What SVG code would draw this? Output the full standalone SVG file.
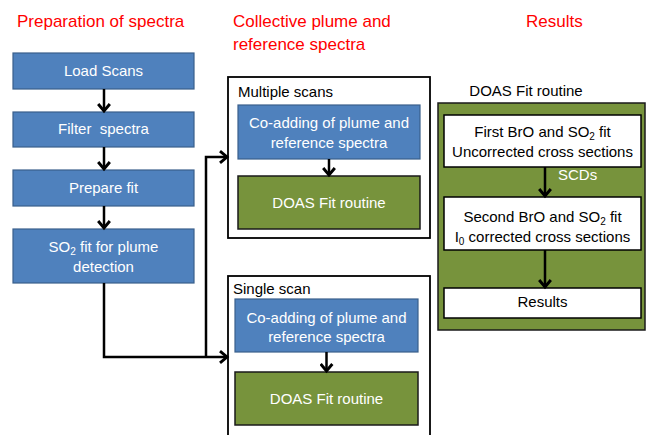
<svg xmlns="http://www.w3.org/2000/svg" width="648" height="435" viewBox="0 0 648 435">
<defs>
<style>
text{font-family:"Liberation Sans",Arial,sans-serif;}
.hdr{fill:#FF0000;font-size:17px;}
.blue{fill:#4F81BD;stroke:#3A5F8B;stroke-width:1.2;}
.green{fill:#77933C;stroke:#1a1a1a;stroke-width:1.5;}
.white{fill:#FFFFFF;stroke:#000;stroke-width:1.5;}
.frame{fill:#FFFFFF;stroke:#000;stroke-width:1.8;}
.wt{fill:#FFFFFF;font-size:15px;text-anchor:middle;}
.bt{fill:#000;font-size:15px;text-anchor:middle;}
.lbl{fill:#000;font-size:15px;}
.con{fill:none;stroke:#000;stroke-width:2.5;}
</style>
<marker id="arr" markerUnits="userSpaceOnUse" markerWidth="14" markerHeight="14" refX="9" refY="6" orient="auto" viewBox="0 0 12 12">
<path d="M3,1 L9,6 L3,11" fill="none" stroke="#000" stroke-width="2.5"/>
</marker>
</defs>
<rect width="648" height="435" fill="#FFFFFF"/>

<g id="headers">
<text class="hdr" x="17" y="27">Preparation of spectra</text>
<text class="hdr" x="233" y="27">Collective plume and</text>
<text class="hdr" x="233" y="50">reference spectra</text>
<text class="hdr" x="526" y="27">Results</text>
</g>

<g id="load-scans"><rect class="blue" x="13" y="53" width="181" height="36"/><text class="wt" x="103.5" y="76">Load Scans</text></g>
<g id="filter-spectra"><rect class="blue" x="13" y="112" width="181" height="35"/><text class="wt" x="103.5" y="134" xml:space="preserve">Filter  spectra</text></g>
<g id="prepare-fit"><rect class="blue" x="13" y="170" width="181" height="36"/><text class="wt" x="103.5" y="193">Prepare fit</text></g>
<g id="so2-fit"><rect class="blue" x="13" y="229" width="181" height="54"/><text class="wt" x="103.5" y="252">SO<tspan font-size="10" dy="3">2</tspan><tspan dy="-3"> fit for plume</tspan></text><text class="wt" x="103.5" y="272">detection</text></g>

<g id="multiple-scans"><rect class="frame" x="228" y="77" width="202" height="161"/><text class="lbl" x="238" y="97">Multiple scans</text>
<rect class="blue" x="238" y="105" width="182" height="54"/><text class="wt" x="329" y="128">Co-adding of plume and</text><text class="wt" x="329" y="148">reference spectra</text>
<rect class="green" x="238" y="176" width="182" height="53"/><text class="wt" x="329" y="208">DOAS Fit routine</text></g>

<g id="single-scan"><rect class="frame" x="228" y="276" width="202" height="165"/><text class="lbl" x="233" y="294">Single scan</text>
<rect class="blue" x="235" y="299" width="183" height="53"/><text class="wt" x="326.5" y="323">Co-adding of plume and</text><text class="wt" x="326.5" y="342">reference spectra</text>
<rect class="green" x="235" y="372" width="183" height="53"/><text class="wt" x="326.5" y="404">DOAS Fit routine</text></g>

<g id="doas-routine"><text class="bt" x="526" y="96">DOAS Fit routine</text>
<rect class="green" x="438" y="103" width="207" height="227"/>
<g id="first-fit"><rect class="white" x="444" y="115" width="197" height="52"/><text class="bt" x="542.5" y="137">First BrO and SO<tspan font-size="10" dy="3">2</tspan><tspan dy="-3"> fit</tspan></text><text class="bt" x="542.5" y="157">Uncorrected cross sections</text></g>
<g id="second-fit"><rect class="white" x="444" y="197" width="197" height="53"/><text class="bt" x="542.5" y="222">Second BrO and SO<tspan font-size="10" dy="3">2</tspan><tspan dy="-3"> fit</tspan></text><text class="bt" x="542.5" y="242">I<tspan font-size="10" dy="3">0</tspan><tspan dy="-3"> corrected cross sections</tspan></text></g>
<g id="results"><rect class="white" x="444" y="288" width="197" height="30"/><text class="bt" x="542.5" y="307">Results</text></g>
</g>

<g id="connectors">
<line class="con" x1="104" y1="89" x2="104" y2="111" marker-end="url(#arr)"/>
<line class="con" x1="104" y1="147" x2="104" y2="169" marker-end="url(#arr)"/>
<line class="con" x1="104" y1="206" x2="104" y2="228" marker-end="url(#arr)"/>
<path class="con" d="M104,283 V357 H227" marker-end="url(#arr)"/>
<path class="con" d="M206,357 V157 H227" marker-end="url(#arr)"/>
<line class="con" x1="329" y1="159" x2="329" y2="175" marker-end="url(#arr)"/>
<line class="con" x1="326.5" y1="352" x2="326.5" y2="371" marker-end="url(#arr)"/>
<line class="con" x1="545" y1="167" x2="545" y2="196" marker-end="url(#arr)"/>
<text class="lbl" x="558" y="180" fill="#FFFFFF" style="fill:#FFFFFF">SCDs</text>
<line class="con" x1="545" y1="250" x2="545" y2="287" marker-end="url(#arr)"/>
</g>
</svg>
